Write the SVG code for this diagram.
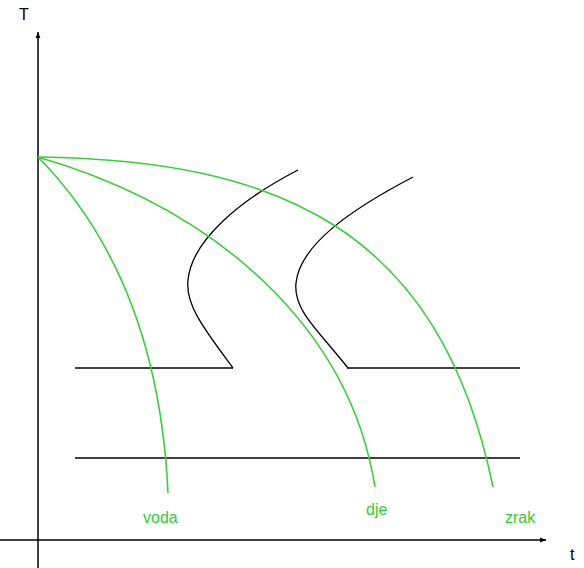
<svg xmlns="http://www.w3.org/2000/svg" width="584" height="568" viewBox="0 0 584 568">
<defs>
<style>
.ax{stroke:#000;stroke-width:1.5;fill:none}
.bl{stroke:#000;stroke-width:1.3;fill:none}
.gr{stroke:#3ccc3c;stroke-width:1.6;fill:none}
.lbl{font-family:"Liberation Sans",Arial,sans-serif;font-size:16px;fill:#33cc33}
.axl{font-family:"Liberation Sans",Arial,sans-serif;font-size:16px;fill:#000}
</style>
<marker id="arr" viewBox="0 0 10 10" refX="10" refY="5" markerWidth="8" markerHeight="6" orient="auto" markerUnits="userSpaceOnUse">
<path d="M0,1 L10,5 L0,9 Z" fill="#000"/>
</marker>
</defs>
<rect width="584" height="568" fill="#fff"/>
<g id="connectors">
<line class="ax" x1="38" y1="568" x2="38" y2="32" marker-end="url(#arr)"/>
<line class="ax" x1="0" y1="540" x2="546" y2="540" marker-end="url(#arr)"/>
<line class="bl" x1="75" y1="368" x2="233" y2="368"/>
<line class="bl" x1="347" y1="368" x2="520" y2="368"/>
<line class="bl" x1="75" y1="458" x2="520" y2="458"/>
<path class="bl" d="M233,368 C205,330 185,305 188,280 C192,240 240,200 298,170"/>
<path class="bl" d="M348,368 C318,330 293,310 296,283 C300,245 350,210 413,177"/>
<path class="gr" d="M38,157 C100,220 160,320 168,493"/>
<path class="gr" d="M38,157 C220,210 350,330 375,487"/>
<path class="gr" d="M38,157 C280,160 440,230 493,487"/>
</g>
<g id="axis-T"><text class="axl" x="19" y="20">T</text></g>
<g id="axis-t"><text class="axl" x="570" y="560">t</text></g>
<g id="voda"><text class="lbl" x="143" y="523">voda</text></g>
<g id="dje"><text class="lbl" x="366" y="515">dje</text></g>
<g id="zrak"><text class="lbl" x="505" y="523">zrak</text></g>
</svg>
